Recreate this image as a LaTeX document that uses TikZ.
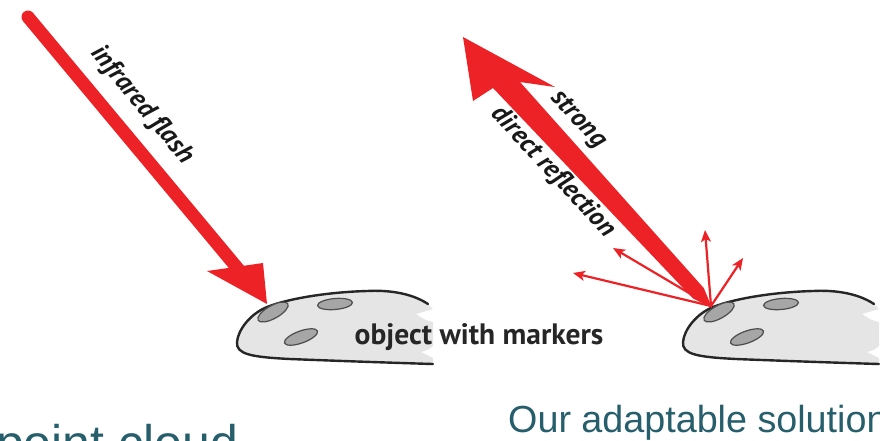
\documentclass[tikz,border=0pt]{standalone}
\usepackage{fontspec}
\setmainfont{Liberation Sans}
\newfontfamily\markfont{PT Sans}
\usetikzlibrary{arrows.meta}

\definecolor{flashred}{RGB}{236,34,39}
\definecolor{rockgray}{RGB}{229,229,229}
\definecolor{markergray}{RGB}{166,166,166}
\definecolor{slideteal}{RGB}{38,94,108}

\tikzset{
  rimline/.style={line width=2.4pt, draw=black!85, line cap=round},
  markerdot/.style={fill=markergray, draw=black!70, line width=1.2pt},
  beamlabel/.style={font=\markfont\bfseries\itshape\fontsize{26.5}{26.5}\selectfont, text=black!90, inner sep=0pt},
  spark/.style={draw=flashred, line width=2.2pt, -{Stealth[length=12pt, width=10pt, inset=3pt]}},
  slidetext/.style={text=slideteal, inner sep=0pt, anchor=base west},
  % grey lump with three reflective markers, torn off on the right
  pics/markedobject/.style={code={
    \fill[rockgray] (428,304) .. controls (410,292) and (385,290) .. (367,291)
        .. controls (330,292) and (290,298) .. (267,307)
        .. controls (250,314) and (238,330) .. (237,342)
        .. controls (236,354) and (250,357) .. (290,359)
        .. controls (340,361) and (400,363) .. (433,364)
        -- (433,358) -- (421,352) .. controls (428,350) .. (433,346)
        -- (433,322) .. controls (425,320) .. (416,314) -- (433,309) -- cycle;
    \draw[rimline] (428,304) .. controls (410,292) and (385,290) .. (367,291)
        .. controls (330,292) and (290,298) .. (267,307)
        .. controls (250,314) and (238,330) .. (237,342)
        .. controls (236,354) and (250,357) .. (290,359)
        .. controls (340,361) and (400,363) .. (433,364);
    \foreach \cx/\cy/\tilt/\rx/\ry in {273/312/29/17/6.5, 335/304/5/17.5/5.5, 301/337/20/17.5/6}{
      \begin{scope}[shift={(\cx,\cy)}, rotate=\tilt]
        \draw[markerdot] (0,0) ellipse [x radius=\rx, y radius=\ry];
      \end{scope}}
  }}
}

\begin{document}
\begin{tikzpicture}[x=1pt, y=-1pt]
  \useasboundingbox (0,0) rectangle (880,440);
  \clip (0,0) rectangle (880,440);

  \pic at (0,0) {markedobject};
  \pic at (446,0) {markedobject};

  % incoming flash
  \coordinate (flash tail) at (28,17);
  \coordinate (flash neck) at (239,270);
  \coordinate (flash tip) at (267,304);
  \coordinate (flash barb a) at (207,271);
  \coordinate (flash barb b) at (263,263);
  \draw[flashred, line width=13pt, line cap=round] (flash tail) -- (flash neck);
  \fill[flashred] (flash barb a) -- (flash tip) -- (flash barb b) -- cycle;
  \node[beamlabel, rotate=-50] (flash label) at (142,105) {infrared flash};

  % reflected beam, widening away from the marker
  \coordinate (bounce) at (712,308);
  \coordinate (beam tip) at (463,37);
  \fill[flashred] (bounce) -- (703.9,288.2) -- (520,82) -- (555,87) -- (beam tip)
    -- (473,101) -- (493,88) -- (692.9,298.4) -- cycle;
  \node[beamlabel, rotate=-47] (strong label) at (578,120) {strong};
  \node[beamlabel, rotate=-47] (reflect label) at (553,172) {direct reflection};

  % scattered rays
  \coordinate (ray a) at (573,273);
  \coordinate (ray b) at (613,248);
  \coordinate (ray c) at (705,230);
  \coordinate (ray d) at (743,258);
  \foreach \r in {a,b,c,d}
    \draw[spark] (711,306) -- (ray \r);

  \node[font=\markfont\bfseries\fontsize{29.5}{29.5}\selectfont, text=black!85, inner sep=0pt, anchor=base]
    (object label) at (479,344) {object with markers};

  \node[slidetext, font=\fontsize{37.7}{40}\selectfont] (solution) at (508,432) {Our adaptable solution};
  \node[slidetext, font=\fontsize{50}{52}\selectfont] (cloud) at (-4,460) {point cloud};
\end{tikzpicture}
\end{document}
